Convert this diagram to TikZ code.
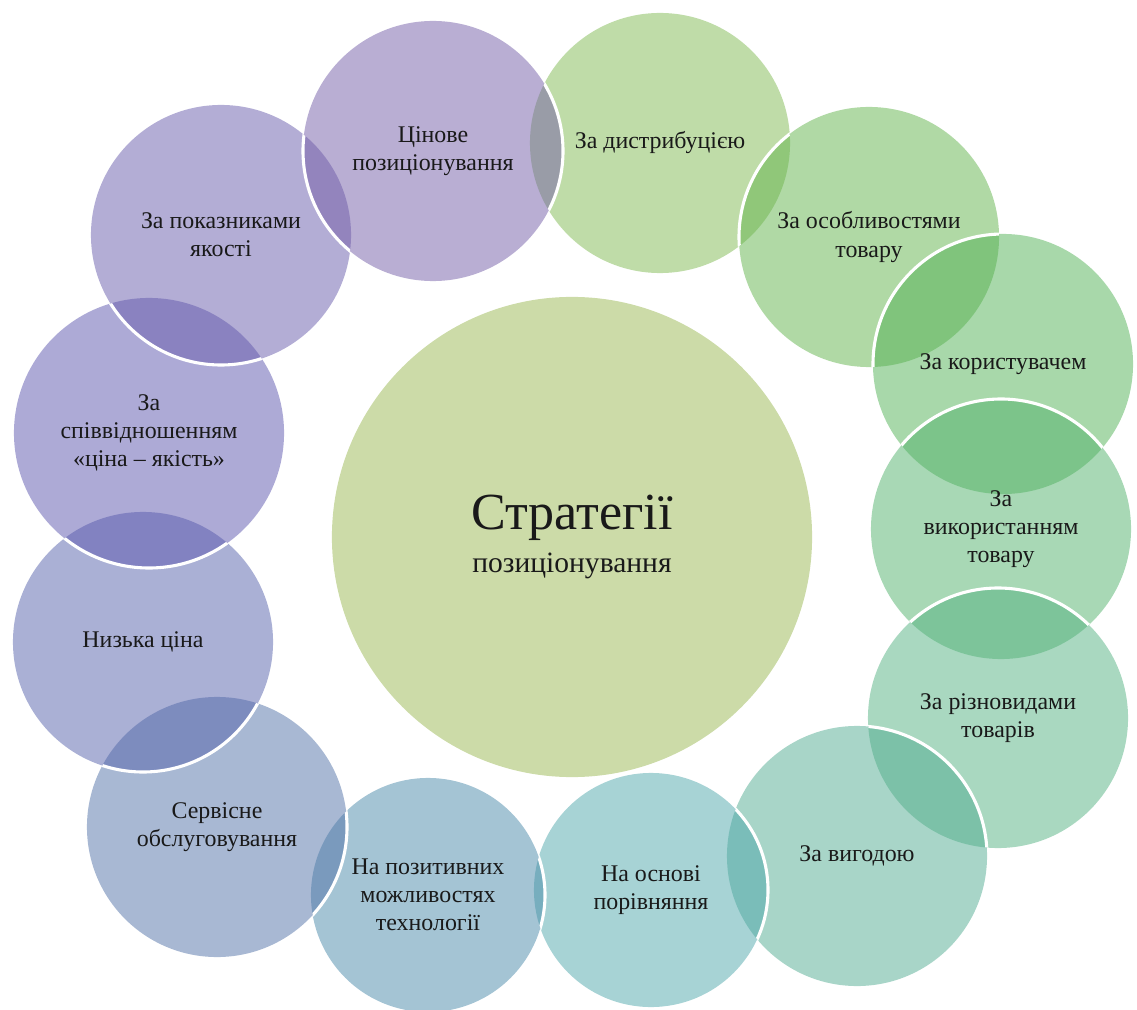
\documentclass[tikz,border=0pt]{standalone}
\usepackage{fontspec}
\setmainfont{Liberation Serif}
\usepackage{xcolor}
\definecolor{hubc}{RGB}{153,183,81}
\definecolor{distc}{RGB}{127,185,81}
\definecolor{featc}{RGB}{97,179,75}
\definecolor{userc}{RGB}{81,177,85}
\definecolor{usagec}{RGB}{81,177,107}
\definecolor{kindsc}{RGB}{83,177,129}
\definecolor{gainc}{RGB}{81,171,145}
\definecolor{comparec}{RGB}{79,167,171}
\definecolor{techc}{RGB}{73,137,169}
\definecolor{servicec}{RGB}{81,113,167}
\definecolor{lowpricec}{RGB}{85,97,171}
\definecolor{ratioc}{RGB}{91,85,173}
\definecolor{qualityc}{RGB}{103,91,171}
\definecolor{pricec}{RGB}{115,93,167}
\tikzset{bubble/.style={circle,inner sep=0pt,minimum size=#1*0.05cm,
   fill opacity=0.5,text opacity=1,text=black!90,align=center,
   font=\fontsize{17}{20}\selectfont},
 bubble/.default=130,
 hub/.style={bubble=240,font=\fontsize{21}{30}\selectfont},
 rim/.style={draw=white,line width=2.2pt},
 }

\begin{document}
\begin{tikzpicture}[x=0.025cm,y=-0.025cm]
\useasboundingbox (0,0) rectangle (1137,1010);
\node[hub,fill=hubc] (hub) at (572,537)
  {{\fontsize{37}{40}\selectfont Стратегії}\\позиціонування};
\node[bubble,fill=distc] (dist) at (660,143) {За дистрибуцією};
\node[bubble,fill=featc] (feat) at (869,237) {За особливостями\\товару};
\node[bubble,fill=userc] (user) at (1003,364) {За користувачем};
\node[bubble,fill=usagec] (usage) at (1001,529) {За\\використанням\\товару};
\node[bubble,fill=kindsc] (kinds) at (998,718) {За різновидами\\товарів};
\node[bubble,fill=gainc] (gain) at (857,856) {За вигодою};
\node[bubble=117,fill=comparec] (compare) at (651,890) {На основі\\порівняння};
\node[bubble=117,fill=techc] (tech) at (428,895) {На позитивних\\можливостях\\технології};
\node[bubble,fill=servicec] (service) at (217,827) {Сервісне\\обслуговування};
\node[bubble,fill=lowpricec] (lowprice) at (143,642) {Низька ціна};
\node[bubble=135,fill=ratioc] (ratio) at (149,433) {За\\співвідношенням\\«ціна – якість»};
\node[bubble,fill=qualityc] (quality) at (221,235) {За показниками\\якості};
\node[bubble,fill=pricec] (price) at (433,151) {Цінове\\позиціонування};
\foreach \lo/\rl/\up/\ru in {dist/130/feat/130,feat/130/user/130,user/130/usage/130,
    usage/130/kinds/130,kinds/130/gain/130,gain/130/compare/117,compare/117/tech/117,
    tech/117/service/130,service/130/lowprice/130,lowprice/130/ratio/135,
    ratio/135/quality/130,quality/130/price/130,dist/130/price/130}{
  \begin{scope}
    \clip (\lo.center) circle[radius=\rl];
    \draw[rim] (\up.center) circle[radius=\ru];
  \end{scope}
}
\end{tikzpicture}
\end{document}
